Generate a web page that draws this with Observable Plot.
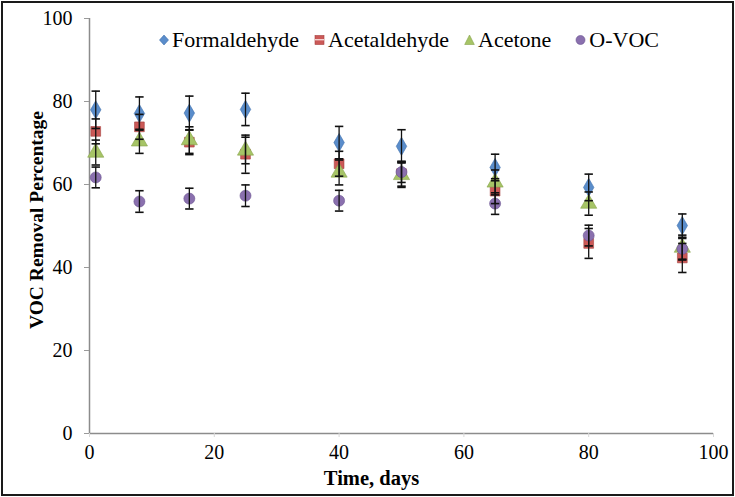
<!DOCTYPE html>
<html>
<head>
<meta charset="utf-8">
<script src="https://cdn.jsdelivr.net/npm/d3@7"></script>
<script src="https://cdn.jsdelivr.net/npm/@observablehq/plot@0.6"></script>
<style>
  html, body { margin: 0; padding: 0; background: #fff; }
  #wrap { position: relative; width: 735px; height: 497px; overflow: hidden; }
  #frame { position: absolute; left: 1px; top: 1px; width: 729px; height: 491px; border: 2px solid #1a1a1a; pointer-events: none; }
  #legend { position: absolute; left: 159px; top: 27px; display: flex; align-items: center; color: #000; white-space: nowrap; }
</style>
</head>
<body>
<div id="wrap">
  <div id="chart"></div>
  <div id="legend"></div>
  <div id="frame"></div>
</div>
<script>
const days = [1, 8, 16, 25, 40, 50, 65, 80, 95];
const seriesNames = ["Formaldehyde", "Acetaldehyde", "Acetone", "O-VOC"];
const formaldehyde    = [78.0, 77.1, 77.2, 78.1, 70.1, 69.2, 64.1, 59.3, 50.1];
const formaldehydeErr = [4.5, 4.0, 4.1, 3.9, 3.9, 4.0, 3.2, 3.2, 2.8];
const acetaldehyde    = [72.8, 73.9, 70.2, 67.3, 65.0, 62.6, 58.4, 45.8, 42.3];
const acetaldehydeErr = [3.0, 3.0, 3.0, 4.6, 3.0, 3.0, 3.0, 3.6, 3.5];
const acetone         = [67.7, 70.4, 70.7, 68.2, 62.9, 62.3, 60.5, 55.4, 44.8];
const acetoneErr      = [3.0, 2.9, 3.2, 3.2, 3.0, 3.0, 3.0, 2.8, 3.0];
const ovoc            = [61.7, 55.9, 56.6, 57.3, 56.1, 63.0, 55.4, 47.7, 44.5];
const ovocErr         = [2.5, 2.6, 2.5, 2.6, 2.5, 2.5, 2.6, 2.5, 2.5];
const xTicks = [0, 20, 40, 60, 80, 100];
const yTicks = [0, 20, 40, 60, 80, 100];

const SERIF = "'Liberation Serif', 'Times New Roman', serif";
const colors  = ["#5A8DCB", "#CB5957", "#A6C466", "#8A70AE"];
const strokes = ["#3F70AD", "#A63F3C", "#86A34A", "#6A5390"];
const symbols = ["diamond", "square", "triangle", "circle"];
const values = [formaldehyde, acetaldehyde, acetone, ovoc];
const errors = [formaldehydeErr, acetaldehydeErr, acetoneErr, ovocErr];

const rows = [];
seriesNames.forEach((name, s) => {
  days.forEach((d, i) => {
    rows.push({series: name, s, day: d, value: values[s][i], lo: values[s][i] - errors[s][i], hi: values[s][i] + errors[s][i]});
  });
});

const capSymbol = {
  draw(context, size) {
    const w = 4.2;
    context.moveTo(-w, 0);
    context.lineTo(w, 0);
  }
};

const marks = [
  Plot.ruleX([0], {stroke: "#8c8c8c", strokeWidth: 1.5}),
  Plot.ruleY([0], {stroke: "#8c8c8c", strokeWidth: 1.5}),
  Plot.axisY({ticks: yTicks, tickSize: 5, tickPadding: 12, stroke: "#9a9a9a", fill: "#000", label: null, fontSize: 20, fontFamily: SERIF, className: "yticks"}),
  Plot.axisX({ticks: xTicks, tickSize: 4, tickPadding: 7, stroke: "#d8d8d8", fill: "#000", label: null, fontSize: 20, fontFamily: SERIF, className: "xticks"}),
  Plot.text(["VOC Removal Percentage"], {frameAnchor: "left", textAnchor: "middle", rotate: -90, dx: -53, dy: -6, fill: "#000", fontSize: 19.5, fontWeight: "bold", fontFamily: SERIF, className: "ytitle"}),
  Plot.text(["Time, days"], {frameAnchor: "bottom", dy: 51, dx: -30, fill: "#000", fontSize: 20.5, fontWeight: "bold", fontFamily: SERIF, className: "xtitle"})
];

seriesNames.forEach((name, s) => {
  const data = rows.filter(r => r.s === s);
  marks.push(Plot.dot(data, {x: "day", y: "value", symbol: () => symbols[s], r: s === 2 ? 6 : 5.5, fill: colors[s], stroke: strokes[s], strokeWidth: 0.6}));
});
seriesNames.forEach((name, s) => {
  const data = rows.filter(r => r.s === s);
  marks.push(Plot.ruleX(data, {x: "day", y1: "lo", y2: "hi", stroke: "#111", strokeWidth: 1.3}));
  marks.push(Plot.dot(data, {x: "day", y: "hi", symbol: capSymbol, r: 3, fill: "none", stroke: "#111", strokeWidth: 1.6}));
  marks.push(Plot.dot(data, {x: "day", y: "lo", symbol: capSymbol, r: 3, fill: "none", stroke: "#111", strokeWidth: 1.6}));
});

const chart = Plot.plot({
  width: 735,
  height: 497,
  marginLeft: 89,
  marginRight: 22,
  marginTop: 18,
  marginBottom: 64,
  style: {background: "#fff"},
  x: {domain: [0, 100]},
  y: {domain: [0, 100]},
  symbol: {type: "identity"},
  marks
});
document.getElementById("chart").appendChild(chart);

// force serif fonts inline on every text element
d3.select(chart).attr("font-family", SERIF).style("font-family", SERIF);
d3.select(chart).selectAll("text").each(function() {
  const g = this.closest("g");
  const cls = g ? (g.getAttribute("class") || "") : "";
  this.style.fontFamily = SERIF;
  this.setAttribute("font-family", SERIF);
  if (/ytitle/.test(cls)) { this.style.fontSize = "19.5px"; this.style.fontWeight = "bold"; }
  else if (/xtitle/.test(cls)) { this.style.fontSize = "20.5px"; this.style.fontWeight = "bold"; }
  else { this.style.fontSize = "20px"; }
});

// legend
const legend = document.getElementById("legend");
const gaps = [15, 15, 24, 0];
const shapeSvg = [
  '<svg width="10" height="12" viewBox="-5 -6 10 12"><path d="M0,-5L4.5,0L0,5L-4.5,0Z" fill="#5A8DCB" stroke="#3F70AD" stroke-width="0.6"/></svg>',
  '<svg width="11" height="12" viewBox="-5.5 -6 11 12"><rect x="-4.5" y="-4.5" width="9" height="9" fill="#CB5957" stroke="#A63F3C" stroke-width="0.6"/><rect x="-4.5" y="-1" width="9" height="1.4" fill="#f3d0cf"/></svg>',
  '<svg width="11" height="12" viewBox="-5.5 -6 11 12"><path d="M0,-5L4.8,4.5L-4.8,4.5Z" fill="#A6C466" stroke="#86A34A" stroke-width="0.6"/></svg>',
  '<svg width="11" height="12" viewBox="-5.5 -6 11 12"><circle r="4.5" fill="#8A70AE" stroke="#6A5390" stroke-width="0.6"/></svg>'
];
seriesNames.forEach((name, s) => {
  const item = document.createElement("div");
  item.style.cssText = "display:flex;align-items:center;margin-right:" + gaps[s] + "px;";
  const span = document.createElement("span");
  span.textContent = name;
  span.style.cssText = "font-family:" + SERIF + ";font-size:22px;line-height:26px;";
  item.innerHTML = shapeSvg[s];
  item.firstChild.style.marginRight = "3px";
  item.appendChild(span);
  legend.appendChild(item);
});
</script>
</body>
</html>
